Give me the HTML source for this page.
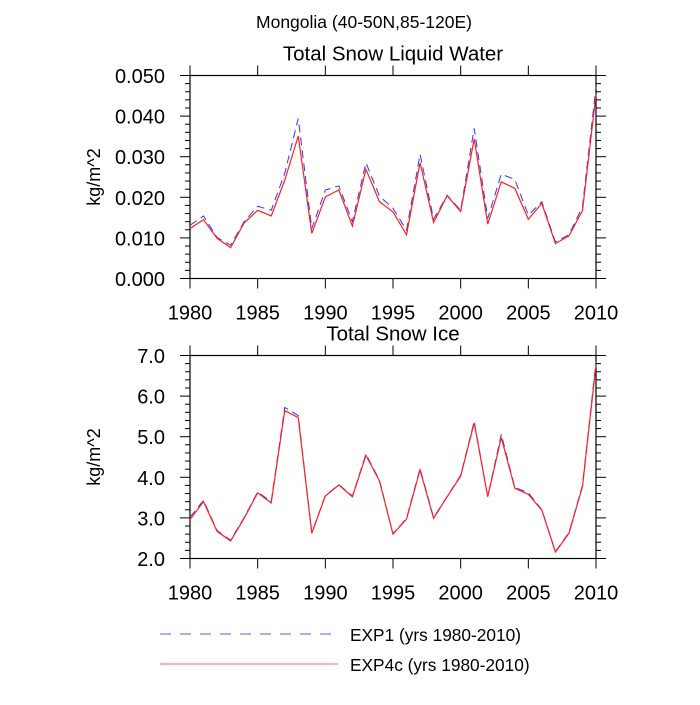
<!DOCTYPE html>
<html><head><meta charset="utf-8"><style>
body{margin:0;background:#fff;}
svg text{font-family:"Liberation Sans",sans-serif;fill:#000;}
</style></head><body>
<svg id="chart" width="700" height="700" xmlns="http://www.w3.org/2000/svg">
<text x="364" y="28" font-size="17.5" text-anchor="middle">Mongolia (40-50N,85-120E)</text>
<g id="p1"></g>
<g id="p2"></g>
<g>
<line x1="160" y1="634" x2="338" y2="634" stroke="#5a5aff" stroke-width="1" stroke-dasharray="11,9"/>
<text x="350" y="641" font-size="17.3">EXP1 (yrs 1980-2010)</text>
<line x1="160" y1="664" x2="338" y2="664" stroke="#ff6a6a" stroke-width="1"/>
<text x="350" y="671" font-size="17.3">EXP4c (yrs 1980-2010)</text>
</g>
</svg>
<script>
const years = [];
for (let y = 1980; y <= 2010; y++) years.push(y);
const xTicks = [1980,1985,1990,1995,2000,2005,2010];
const waterExp1 = [0.0131,0.0154,0.0101,0.0082,0.0140,0.0178,0.0168,0.0259,0.0394,0.0123,0.0218,0.0228,0.0140,0.0285,0.0203,0.0173,0.0119,0.0306,0.0146,0.0205,0.0168,0.0370,0.0148,0.0257,0.0244,0.0156,0.0189,0.0090,0.0108,0.0177,0.0472];
const waterExp4c = [0.0123,0.0145,0.0099,0.0076,0.0137,0.0168,0.0154,0.0242,0.0351,0.0111,0.0201,0.0218,0.0129,0.0269,0.0189,0.0164,0.0108,0.0285,0.0138,0.0204,0.0165,0.0344,0.0134,0.0238,0.0222,0.0146,0.0185,0.0086,0.0105,0.0167,0.0454];
const waterTicks = ["0.000","0.010","0.020","0.030","0.040","0.050"];
const iceExp1 = [3.02,3.43,2.69,2.45,3.01,3.64,3.40,5.72,5.52,2.64,3.55,3.82,3.54,4.57,3.93,2.61,2.99,4.22,3.01,3.53,4.05,5.38,3.53,5.06,3.75,3.62,3.20,2.17,2.64,3.80,6.85];
const iceExp4c = [2.96,3.40,2.67,2.43,2.99,3.62,3.37,5.64,5.47,2.62,3.54,3.81,3.52,4.54,3.91,2.60,2.97,4.18,2.99,3.52,4.03,5.34,3.52,4.98,3.73,3.58,3.19,2.16,2.62,3.77,6.77];
const iceTicks = ["2.0","3.0","4.0","5.0","6.0","7.0"];

const NS = "http://www.w3.org/2000/svg";
function mk(parent, tag, attrs){ const e=document.createElementNS(NS,tag); for(const k in attrs) e.setAttribute(k,attrs[k]); parent.appendChild(e); return e; }

function panel(g, top, title, ticks, ymin, ymax, s1, s2, prefix){
  const L=190, R=596, T=top, B=top+203;
  const xs = v => L + (v-1980)/30*(R-L);
  const ys = v => B - (v-ymin)/(ymax-ymin)*(B-T);
  const t = mk(g,'text',{x:393,y:T-15,'font-size':20.5,'text-anchor':'middle'});
  t.textContent = title;
  
  
  const box = mk(g,'rect',{x:L,y:T,width:R-L,height:B-T,fill:'none',stroke:'#000','stroke-width':1.2});
  
  
  for (const yr of xTicks){
    const x=xs(yr);
    mk(g,'line',{x1:x,y1:B,x2:x,y2:B+10,stroke:'#000'});
    mk(g,'line',{x1:x,y1:T,x2:x,y2:T-10,stroke:'#000'});
    const lb = mk(g,'text',{x:x,y:B+41,'font-size':20,'text-anchor':'middle'});
    lb.textContent = yr;
    
    
  }
  const step=(ymax-ymin)/(ticks.length-1);
  for (let i=0;i<ticks.length;i++){
    const v=ymin+i*step, y=ys(v);
    mk(g,'line',{x1:L-10,y1:y,x2:L,y2:y,stroke:'#000'});
    mk(g,'line',{x1:R,y1:y,x2:R+10,y2:y,stroke:'#000'});
    const lb = mk(g,'text',{x:L-25,y:y+7.5,'font-size':20,'text-anchor':'end'});
    lb.textContent = ticks[i];
    
    
    if(i<ticks.length-1){
      for(let k=1;k<5;k++){
        const ym=ys(v+step*k/5);
        mk(g,'line',{x1:L-5,y1:ym,x2:L,y2:ym,stroke:'#000'});
        mk(g,'line',{x1:R,y1:ym,x2:R+5,y2:ym,stroke:'#000'});
      }
    }
  }
  const yl = mk(g,'text',{x:0,y:0,'font-size':18,'text-anchor':'middle',transform:`translate(${L-90},${(T+B)/2}) rotate(-90)`});
  yl.textContent='kg/m^2';
  
  
  const p1 = mk(g,'polyline',{points:s1.map((v,i)=>xs(years[i])+','+ys(v)).join(' '),fill:'none',stroke:'#3333ff','stroke-width':1,'stroke-dasharray':'8,5'});
  
  
  const p2 = mk(g,'polyline',{points:s2.map((v,i)=>xs(years[i])+','+ys(v)).join(' '),fill:'none',stroke:'#ff2020','stroke-width':1.2});
  
  
}
panel(document.getElementById('p1'), 75.5, 'Total Snow Liquid Water', waterTicks, 0, 0.05, waterExp1, waterExp4c, 'water');
panel(document.getElementById('p2'), 355.5, 'Total Snow Ice', iceTicks, 2, 7, iceExp1, iceExp4c, 'ice');
</script>
</body></html>
